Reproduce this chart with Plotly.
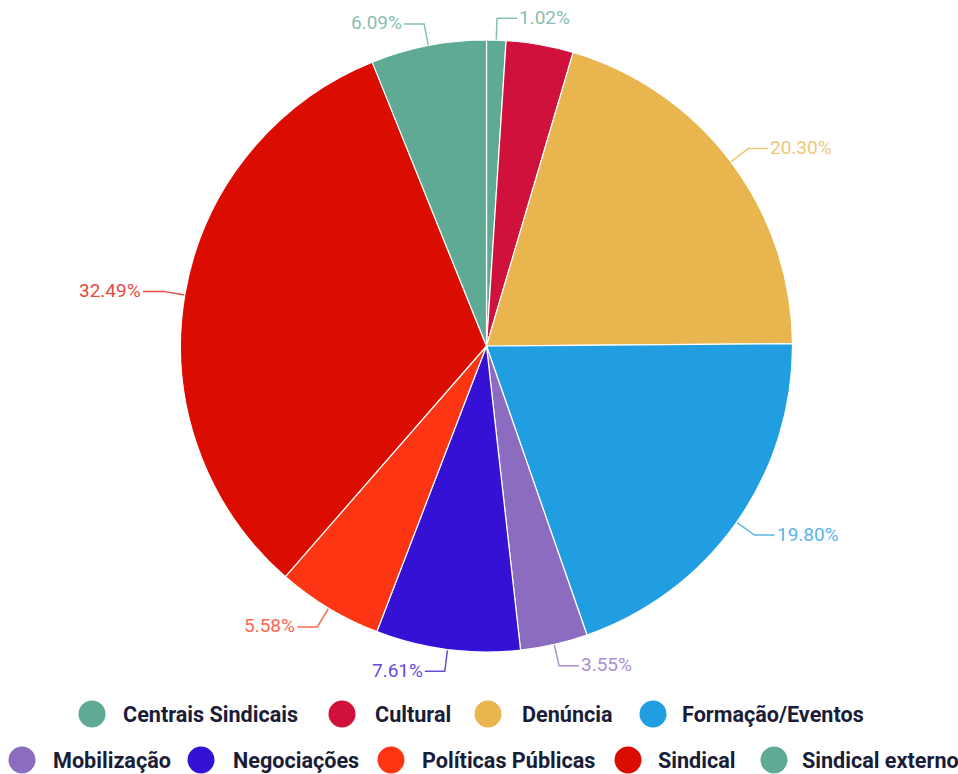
import math
import plotly.graph_objects as go

# ---- data -------------------------------------------------------------
categories = [
    "Centrais Sindicais", "Cultural", "Denúncia", "Formação/Eventos",
    "Mobilização", "Negociações", "Políticas Públicas", "Sindical",
    "Sindical externo",
]
shares = [1.02, 3.55, 20.30, 19.80, 3.55, 7.61, 5.58, 32.49, 6.09]
colors = [
    "#5FAA95", "#D0113B", "#E8B54E", "#209EE1", "#8C6CC0",
    "#3411D5", "#FD3513", "#DB0C00", "#5FAA95",
]
# the Cultural label would collide with its neighbour, so it is left off
show_label = [True, False, True, True, True, True, True, True, True]

# ---- layout constants (pixels) -----------------------------------------
W, H = 958, 774
CX, CY, R = 486.5, 346.0, 306.0
LEAD_RADIAL = 22      # leader line: radial part beyond the rim
LEAD_FLAT = 20        # leader line: horizontal part
LABEL_FONT = dict(family="Roboto", size=19)
LEGEND_FONT = dict(family="Roboto", size=21.6, weight=700, color="#1A1D38")

legend_rows = [
    # (y, [(category index, dot centre x, text start x), ...])
    (714, [(0, 92, 121), (1, 342, 373), (2, 488, 520), (3, 653, 680)]),
    (760, [(4, 22, 51), (5, 201, 231), (6, 391, 420), (7, 628, 656), (8, 774, 800)]),
]


def lighten(hex_color, amount=0.2):
    h = hex_color.lstrip("#")
    r, g, b = (int(h[i:i + 2], 16) for i in (0, 2, 4))
    r, g, b = (round(c + (255 - c) * amount) for c in (r, g, b))
    return f"rgb({r},{g},{b})"


fig = go.Figure()

# ---- pie ---------------------------------------------------------------
fig.add_trace(go.Pie(
    labels=categories,
    values=shares,
    sort=False,
    direction="clockwise",
    rotation=0,
    marker=dict(colors=colors, line=dict(color="white", width=1.2)),
    textinfo="none",
    hoverinfo="label+percent",
    showlegend=False,
    domain=dict(x=[(CX - R) / W, (CX + R) / W],
                y=[1 - (CY + R) / H, 1 - (CY - R) / H]),
))

# ---- outside labels with elbow leader lines ----------------------------
total = sum(shares)
annotations = []
cum = 0.0
for name, val, col, show in zip(categories, shares, colors, show_label):
    mid = (cum + val / 2) / total * 2 * math.pi
    cum += val
    if not show:
        continue
    s, c = math.sin(mid), math.cos(mid)
    x0, y0 = CX + R * s, CY - R * c
    x1, y1 = CX + (R + LEAD_RADIAL) * s, CY - (R + LEAD_RADIAL) * c
    side = 1 if s >= 0 else -1
    x2 = x1 + side * LEAD_FLAT
    tc = lighten(col, 0.25)
    fig.add_trace(go.Scatter(
        x=[x0, x1, x2], y=[y0, y1, y1], mode="lines",
        line=dict(color=tc, width=1.5), hoverinfo="skip", showlegend=False,
    ))
    annotations.append(dict(
        x=x2, y=y1 - 1, xref="x", yref="y",
        text=f"{val / total * 100:.2f}%", showarrow=False,
        xanchor="left" if side > 0 else "right", yanchor="middle",
        font=dict(LABEL_FONT, color=tc),
    ))

# ---- legend: large dots with bold names --------------------------------
for y, items in legend_rows:
    for idx, dot_x, text_x in items:
        fig.add_trace(go.Scatter(
            x=[dot_x], y=[y], mode="markers",
            marker=dict(size=27, color=colors[idx], line=dict(width=0)),
            hoverinfo="skip", showlegend=False,
        ))
        annotations.append(dict(
            x=text_x, y=y, xref="x", yref="y", text=categories[idx],
            showarrow=False, xanchor="left", yanchor="middle",
            font=LEGEND_FONT,
        ))

fig.update_layout(
    width=W, height=H, autosize=False,
    margin=dict(l=0, r=0, t=0, b=0),
    paper_bgcolor="white", plot_bgcolor="rgba(0,0,0,0)",
    xaxis=dict(range=[0, W], domain=[0, 1], visible=False, fixedrange=True),
    yaxis=dict(range=[H, 0], domain=[0, 1], visible=False, fixedrange=True),
    annotations=annotations,
    showlegend=False,
)

fig.write_html("out.html")
